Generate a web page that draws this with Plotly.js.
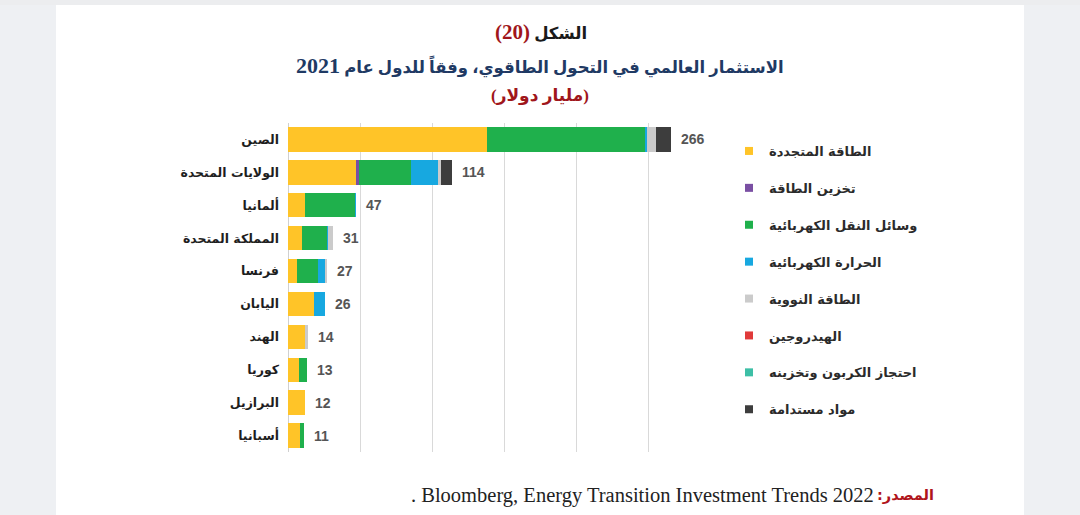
<!DOCTYPE html>
<html>
<head>
<meta charset="utf-8">
<script src="https://cdn.plot.ly/plotly-3.0.1.min.js"></script>
<style>html,body{margin:0;padding:0;background:#fff;}#chart{width:1080px;height:515px;}</style>
</head>
<body>
<div id="chart"></div>
<script>
// ---- Data (billion USD, 2021) ----
const countries = ['الصين','الولايات المتحدة','ألمانيا','المملكة المتحدة','فرنسا','اليابان','الهند','كوريا','البرازيل','أسبانيا'];
const totals = [266,114,47,31,27,26,14,13,12,11];
const renewable = [138,47,12,10,6.5,18,11.5,7.5,12,8];
const storage   = [0,2.5,0,0,0,0,0,0,0,0];
const transport = [110,36,34.5,17,14,0,0,5.5,0,3];
const heat      = [1.5,19,0.5,1,5,8,0,0,0,0];
const nuclear   = [6,2,0,3,1.5,0,2.5,0,0,0];
const hydrogen  = [0,0,0,0,0,0,0,0,0,0];
const ccs       = [0,0,0,0,0,0,0,0,0,0];
const materials = [10.5,7.5,0,0,0,0,0,0,0,0];
const seriesNames = ['الطاقة المتجددة','تخزين الطاقة','وسائل النقل الكهربائية','الحرارة الكهربائية','الطاقة النووية','الهيدروجين','احتجاز الكربون وتخزينه','مواد مستدامة'];
const seriesValues = [renewable,storage,transport,heat,nuclear,hydrogen,ccs,materials];
const seriesColors = ['#FFC428','#7A4FA3','#1FB04C','#17A8E0','#CBCBCB','#E03A3A','#3DBFA6','#3D3D3D'];

const arabicFont = 'DejaVu Sans, Noto Sans, sans-serif';
const traces = [];
seriesNames.forEach((name,i)=>{
  traces.push({
    type:'bar', orientation:'h', name:name,
    x: seriesValues[i], y: countries,
    marker:{color:seriesColors[i], line:{width:0}},
    showlegend:false, hoverinfo:'x+y+name'
  });
});
seriesNames.forEach((name,i)=>{
  traces.push({
    type:'scatter', mode:'markers', name:name,
    x:[null], y:[null],
    marker:{symbol:'square', size:8, color:seriesColors[i]},
    legendgroup:'g'+i, showlegend:true
  });
});

// pixel helpers (plot area: x 288..720, y 123..452)
const L=288, R=720, T=123, B=452;
const px = v => (v-L)/(R-L);
const py = v => (B-v)/(B-T);

const annotations = [];
countries.forEach((c,i)=>{
  annotations.push({
    x: totals[i], y: c, xref:'x', yref:'y', text: String(totals[i]),
    showarrow:false, xanchor:'left', xshift:8,
    font:{family:'Liberation Sans, Arial, sans-serif', size:14, color:'#555555', weight:700}
  });
});
// titles
annotations.push({xref:'paper', yref:'paper', x:px(541), y:py(32), xanchor:'center', yanchor:'middle', showarrow:false,
  text:'<b>الشكل <span style="color:#A0161B;font-size:21px">(20)</span>\u200F</b>',
  font:{family:'Liberation Serif, DejaVu Sans, serif', size:16.5, color:'#1a1a1a'}});
annotations.push({xref:'paper', yref:'paper', x:px(540), y:py(65), xanchor:'center', yanchor:'middle', showarrow:false,
  text:'<b>الاستثمار العالمي في التحول الطاقوي، وفقاً للدول عام <span style="font-size:22px">2021</span></b>',
  font:{family:'Liberation Serif, DejaVu Sans, serif', size:16.5, color:'#1F3A64'}});
annotations.push({xref:'paper', yref:'paper', x:px(540), y:py(96), xanchor:'center', yanchor:'middle', showarrow:false,
  text:'<b>(مليار دولار)</b>',
  font:{family:'Liberation Serif, DejaVu Sans, serif', size:17, color:'#A0161B'}});
// source
annotations.push({xref:'paper', yref:'paper', x:px(936), y:py(495), xanchor:'right', yanchor:'middle', showarrow:false,
  text:'<b>المصدر:\u200F</b>',
  font:{family:'DejaVu Sans, serif', size:14.5, color:'#B0141B'}});
annotations.push({xref:'paper', yref:'paper', x:px(876), y:py(495), xanchor:'right', yanchor:'middle', showarrow:false,
  text:'. Bloomberg, Energy Transition Investment Trends 2022',
  font:{family:'Liberation Serif, Times New Roman, serif', size:20.5, color:'#222'}});

const layout = {
  width:1080, height:515,
  paper_bgcolor:'#ffffff', plot_bgcolor:'rgba(0,0,0,0)',
  margin:{l:L, r:1080-R, t:T, b:515-B, pad:0},
  barmode:'stack', bargap:0.26,
  xaxis:{range:[0,300], dtick:50, showgrid:true, gridcolor:'#d9d9d9', gridwidth:1,
    showticklabels:false, zeroline:true, zerolinecolor:'#d0d0d0', zerolinewidth:1, showline:false, fixedrange:true},
  yaxis:{type:'category', categoryorder:'array', categoryarray:countries, autorange:'reversed',
    showgrid:false, zeroline:false, showline:false, ticks:'', ticklabelstandoff:8,
    tickfont:{family:arabicFont, size:12.5, color:'#1e1e1e', weight:700}},
  legend:{x:px(729), xanchor:'left', y:py(136), yanchor:'top', bgcolor:'rgba(0,0,0,0)',
    font:{family:arabicFont, size:13, color:'#2b2b2b', weight:700},
    tracegroupgap:17, traceorder:'grouped', itemwidth:30},
  showlegend:true,
  annotations:annotations,
  shapes:[
    {type:'rect', xref:'paper', yref:'paper', x0:px(0), x1:px(56), y0:py(515), y1:py(0), fillcolor:'#EEF0F3', line:{width:0}, layer:'below'},
    {type:'rect', xref:'paper', yref:'paper', x0:px(1024), x1:px(1080), y0:py(515), y1:py(0), fillcolor:'#EEF0F3', line:{width:0}, layer:'below'},
    {type:'rect', xref:'paper', yref:'paper', x0:px(0), x1:px(1080), y0:py(5), y1:py(0), fillcolor:'#ECEDEF', line:{width:0}, layer:'below'}
  ]
};
Plotly.newPlot('chart', traces, layout, {displayModeBar:false, staticPlot:true});
</script>
</body>
</html>
